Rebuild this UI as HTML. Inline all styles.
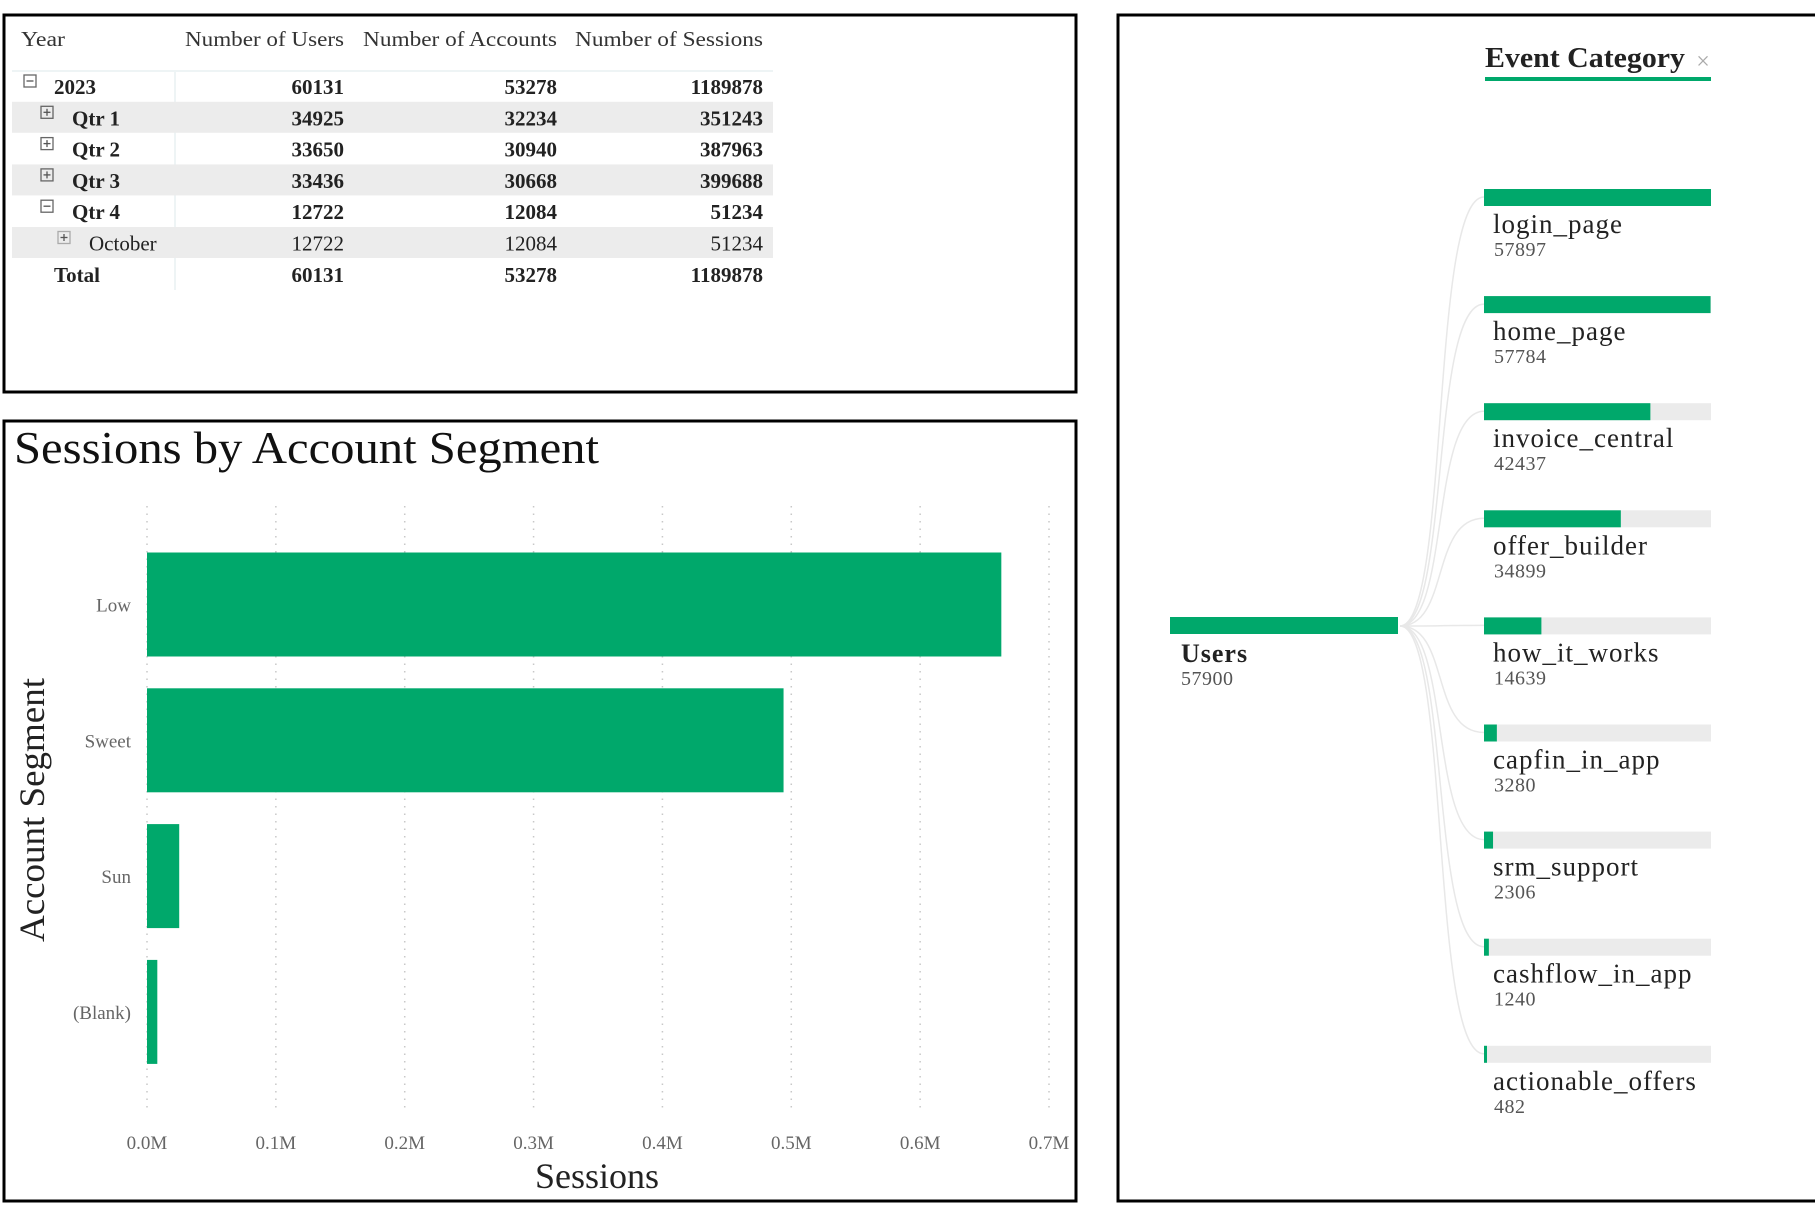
<!DOCTYPE html>
<html><head><meta charset="utf-8">
<style>
html,body{margin:0;padding:0;background:#fff;width:1815px;height:1210px;overflow:hidden}
svg{display:block;font-family:"Liberation Serif",serif}
</style></head>
<body>
<svg id="root" width="1815" height="1210" viewBox="0 0 1815 1210">
  <rect x="4" y="15" width="1072" height="377" fill="none" stroke="#000" stroke-width="3"/>
  <rect x="4" y="421" width="1072" height="780" fill="none" stroke="#000" stroke-width="3"/>
  <rect x="1118" y="15" width="710" height="1186" fill="none" stroke="#000" stroke-width="3"/>
  <g id="table"></g>
  <g id="chart">
    <text x="14" y="463" font-size="45" fill="#111" textLength="585" lengthAdjust="spacingAndGlyphs">Sessions by Account Segment</text>
    <text x="597" y="1188" font-size="36" fill="#222" text-anchor="middle">Sessions</text>
    <text transform="translate(44,810) rotate(-90)" font-size="36" fill="#222" text-anchor="middle" textLength="264" lengthAdjust="spacingAndGlyphs">Account Segment</text>
  </g>
  <g id="tree">
    <text x="1485" y="67" font-size="28" font-weight="bold" fill="#222" textLength="200" lengthAdjust="spacingAndGlyphs">Event Category</text>
    <text x="1703" y="69" font-size="24" fill="#aaa" text-anchor="middle">×</text>
    <rect x="1485" y="77" width="226" height="4" fill="#00a86b"/>
    <rect x="1170" y="617" width="228" height="17" fill="#00a86b"/>
    <text x="1181" y="662" font-size="26" font-weight="bold" fill="#222" letter-spacing="1">Users</text>
    <text x="1181" y="685" font-size="20" fill="#555" letter-spacing="0.5">57900</text>
  </g>
</svg>
<script>
const NS="http://www.w3.org/2000/svg";
function mk(tag,attrs,parent,txt){const e=document.createElementNS(NS,tag);for(const k in attrs)e.setAttribute(k,attrs[k]);if(txt!==undefined)e.textContent=txt;parent.appendChild(e);return e;}

const rowLabels=["2023","Qtr 1","Qtr 2","Qtr 3","Qtr 4","October","Total"];
const rowUsers=[60131,34925,33650,33436,12722,12722,60131];
const rowAccounts=[53278,32234,30940,30668,12084,12084,53278];
const rowSessions=[1189878,351243,387963,399688,51234,51234,1189878];
const rowLevel=[0,1,1,1,1,2,0];
const rowIcon=["-","+","+","+","-","+",""];
const headers=["Year","Number of Users","Number of Accounts","Number of Sessions"];

const tg=document.getElementById('table');
const colRight=[null,344,557,763];
const hx=[21,344,557,763];
const hw=[44,159,194,188];
headers.forEach((h,i)=>{
  const t=mk('text',{x:hx[i],y:46,'font-size':21,fill:'#333','text-anchor':i?'end':'start',textLength:hw[i],lengthAdjust:'spacingAndGlyphs'},tg,h);
  
  
});
mk('line',{x1:12,y1:71,x2:773,y2:71,stroke:'#eef4f5','stroke-width':2},tg);
mk('line',{x1:175,y1:71,x2:175,y2:290,stroke:'#eef4f5','stroke-width':2},tg);
rowLabels.forEach((lab,r)=>{
  const cy=86+r*31.3;
  if(r===1||r===3||r===5){
    const b=mk('rect',{x:12,y:cy-15.5,width:761,height:31,fill:'#ececec'},tg);
    
    
  }
  const bold=r!==5;
  const tx=[54,72,89][rowLevel[r]];
  const ix=[24,41,58][rowLevel[r]];
  if(rowIcon[r]){
    const ic=mk('g',{},tg);
    
    
    mk('rect',{x:ix,y:cy-11,width:12,height:12,fill:'none',stroke:r===5?'#aaa':'#666','stroke-width':1.3},ic);
    mk('line',{x1:ix+2.5,y1:cy-5,x2:ix+9.5,y2:cy-5,stroke:'#555','stroke-width':1.3},ic);
    if(rowIcon[r]==='+')mk('line',{x1:ix+6,y1:cy-8.5,x2:ix+6,y2:cy-1.5,stroke:'#555','stroke-width':1.3},ic);
  }
  const lt=mk('text',{x:tx,y:cy+8,'font-size':21,'font-weight':bold?'bold':'normal',fill:'#222'},tg,lab);
  
  
  [rowUsers,rowAccounts,rowSessions].forEach((arr,c)=>{
    const v=mk('text',{x:colRight[c+1],y:cy+8,'font-size':21,'font-weight':bold?'bold':'normal',fill:'#222','text-anchor':'end'},tg,String(arr[r]));
    
    
  });
});

const categories=["Low","Sweet","Sun","(Blank)"];
const sessionValues=[663000,494000,25000,8000];
const tickValues=[0,100000,200000,300000,400000,500000,600000,700000];
const tickLabels=["0.0M","0.1M","0.2M","0.3M","0.4M","0.5M","0.6M","0.7M"];

const cg=document.getElementById('chart');
const X0=147,X1=1049,XMAX=700000;
const xScale=v=>X0+(X1-X0)*v/XMAX;
const bandTop=537,bandStep=135.8,barH=104,barPad=15.5;
tickValues.forEach((t,i)=>{
  const x=xScale(t);
  const g=mk('line',{x1:x,y1:506,x2:x,y2:1111,stroke:'#c8c8c8','stroke-width':1.5,'stroke-dasharray':'1.5,6'},cg);
  
  
  const tl=mk('text',{x:x,y:1149,'font-size':19,fill:'#666','text-anchor':'middle'},cg,tickLabels[i]);
  
  
});
categories.forEach((c,i)=>{
  const y=bandTop+i*bandStep+barPad;
  const b=mk('rect',{x:X0,y:y,width:xScale(sessionValues[i])-X0,height:barH,fill:'#00a86b'},cg);
  
  
  const l=mk('text',{x:131,y:y+barH/2+7,'font-size':19,fill:'#666','text-anchor':'end'},cg,c);
  
  
});

const eventNames=["login_page","home_page","invoice_central","offer_builder","how_it_works","capfin_in_app","srm_support","cashflow_in_app","actionable_offers"];
const eventUsers=[57897,57784,42437,34899,14639,3280,2306,1240,482];
const totalUsers=57900;

const tr=document.getElementById('tree');
const BX=1484,BW=227,BH=17,top0=189,step=107.1;
eventNames.forEach((n,i)=>{
  const y=top0+i*step;
  const p=mk('path',{d:`M1400,626 C1450,626 1430,${y+8} ${BX},${y+8}`,fill:'none',stroke:'#e8e8e8','stroke-width':1.5},tr);
  
  
  const bg=mk('rect',{x:BX,y:y,width:BW,height:BH,fill:'#ebebeb'},tr);
  
  
  const fb=mk('rect',{x:BX,y:y,width:Math.max(3,BW*eventUsers[i]/totalUsers),height:BH,fill:'#00a86b'},tr);
  
  
  const lt=mk('text',{x:1493,y:y+44,'font-size':27,fill:'#222','letter-spacing':1},tr,n);
  
  
  const vt=mk('text',{x:1494,y:y+67,'font-size':20,fill:'#555','letter-spacing':0.5},tr,String(eventUsers[i]));
  
  
});
</script>
</body></html>
